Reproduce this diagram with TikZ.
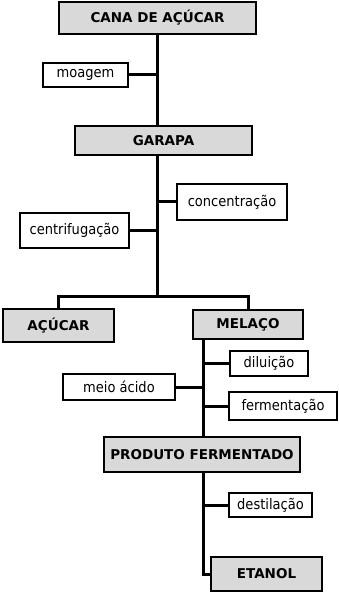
\documentclass[tikz,border=0pt]{standalone}
\usepackage{fontspec}
\setmainfont{DejaVu Sans}
\newfontfamily\condfont{DejaVu Sans Condensed}
\definecolor{boxgray}{HTML}{D9D9D9}
\begin{document}
\begin{tikzpicture}[x=1pt,y=-1pt,
  gbox/.style={draw=black,line width=2pt,fill=boxgray,inner sep=0pt,font=\fontsize{13.5}{15}\selectfont\bfseries},
  wbox/.style={draw=black,line width=2pt,fill=white,inner sep=0pt,font=\condfont\fontsize{14.5}{16}\selectfont},
  conn/.style={line width=3pt,line join=miter}]
\useasboundingbox (0,0) rectangle (339,593);
% nodes
\node[gbox,minimum width=197pt,minimum height=32pt] (cana) at (157.5,18) {CANA DE AÇÚCAR};
\node[wbox,minimum width=85pt,minimum height=24pt] (moagem) at (85.5,75) {moagem};
\node[gbox,minimum width=177pt,minimum height=29pt] (garapa) at (163.5,140.5) {GARAPA};
\node[wbox,minimum width=110pt,minimum height=36pt] (conc) at (232,202) {concentração};
\node[wbox,minimum width=109pt,minimum height=35pt] (centr) at (74.5,230.5) {centrifugação};
\node[gbox,minimum width=111pt,minimum height=33pt] (acucar) at (58.5,325.5) {AÇÚCAR};
\node[gbox,minimum width=110pt,minimum height=29pt] (melaco) at (248,324.5) {MELAÇO};
\node[wbox,minimum width=78pt,minimum height=25pt] (dil) at (269,363.5) {diluição};
\node[wbox,minimum width=112pt,minimum height=26pt] (meio) at (119,387) {meio ácido};
\node[wbox,minimum width=108pt,minimum height=28pt] (ferm) at (283,406) {fermentação};
\node[gbox,minimum width=196pt,minimum height=35pt] (prod) at (202,454.5) {PRODUTO FERMENTADO};
\node[wbox,minimum width=83pt,minimum height=24pt] (dest) at (270.5,505) {destilação};
\node[gbox,minimum width=111pt,minimum height=34pt] (etanol) at (266.5,574) {ETANOL};
% junctions
\coordinate (j1) at (157,296);
\coordinate (t2) at (203,340);
% connectors
\draw[conn] (cana.south -| j1) -- (garapa.north -| j1);
\draw[conn] (moagem.east) -- (moagem.east -| j1);
\draw[conn] (garapa.south -| j1) -- (j1);
\draw[conn] (conc.west) -- (conc.west -| j1);
\draw[conn] (centr.east) -- (centr.east -| j1);
\draw[conn] (acucar.north) -- (acucar.north |- j1) -- (melaco.north |- j1) -- (melaco.north);
\draw[conn] (melaco.south -| t2) -- (prod.north -| t2);
\draw[conn] (dil.west) -- (dil.west -| t2);
\draw[conn] (meio.east) -- (meio.east -| t2);
\draw[conn] (ferm.west) -- (ferm.west -| t2);
\draw[conn] (prod.south -| t2) |- (etanol.west);
\draw[conn] (dest.west) -- (dest.west -| t2);
\end{tikzpicture}
\end{document}
